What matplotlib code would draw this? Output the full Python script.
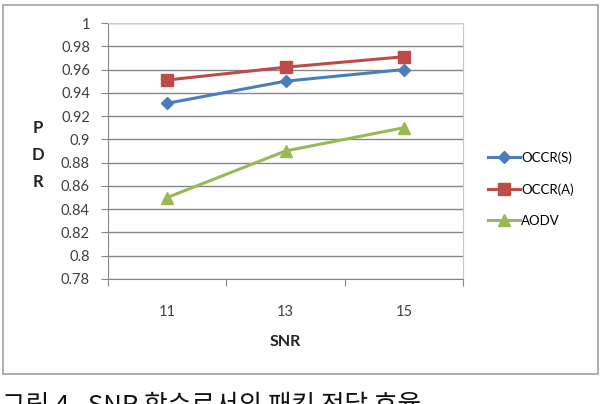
import matplotlib.pyplot as plt
from matplotlib.patches import Rectangle

snr = ['11', '13', '15']
occr_s = [0.931, 0.950, 0.960]
occr_a = [0.951, 0.962, 0.971]
aodv = [0.850, 0.890, 0.910]
yticks = [0.78, 0.8, 0.82, 0.84, 0.86, 0.88, 0.9, 0.92, 0.94, 0.96, 0.98, 1]
ylabels = ['0.78', '0.8', '0.82', '0.84', '0.86', '0.88', '0.9', '0.92', '0.94', '0.96', '0.98', '1']

plt.rcParams['font.family'] = ['Lato', 'DejaVu Sans']

fig = plt.figure(figsize=(6.1, 4.04), dpi=100)
fig.patch.set_facecolor('white')

# outer chart frame
fig.patches.append(Rectangle((3/610, 1-374/404), 595/610, 369/404, transform=fig.transFigure,
                             fill=False, edgecolor='#a0a0a0', linewidth=1.2))

ax = fig.add_axes([108/610, 1-279/404, 355/610, 256/404])
x = range(len(snr))
ax.plot(x, occr_s, color='#4a7ebb', lw=2.2, marker='D', ms=6, label='OCCR(S)')
ax.plot(x, occr_a, color='#be4b48', lw=2.2, marker='s', ms=8, label='OCCR(A)')
ax.plot(x, aodv, color='#98b954', lw=2.2, marker='^', ms=8, label='AODV')

ax.set_xlim(-0.5, 2.5)
ax.set_ylim(0.78, 1)
ax.set_yticks(yticks)
ax.set_yticklabels(ylabels, fontsize=10.5, color='#404040')
ax.set_xticks([-0.5, 0.5, 1.5, 2.5])
ax.set_xticklabels([])
ax.set_xticks(list(x), minor=True)
ax.set_xticklabels(snr, minor=True, fontsize=10.5, color='#404040')
ax.tick_params(axis='x', which='minor', length=0, pad=19)
ax.tick_params(axis='x', which='major', length=5, color='#868686', direction='out')
ax.tick_params(axis='y', length=5, color='#868686', direction='out', pad=8)
ax.grid(axis='y', color='#868686', lw=1)
ax.set_axisbelow(True)
for s in ['top', 'right']:
    ax.spines[s].set_color('#c8c8c8')
for s in ['left', 'bottom']:
    ax.spines[s].set_color('#868686')

fig.text(285/610, 1-342/404, 'SNR', ha='center', va='center', fontsize=11.5, fontweight='bold', color='#222222')
for ch, yy in zip('PDR', [128, 155, 182]):
    fig.text(38/610, 1-yy/404, ch, ha='center', va='center', fontsize=12, fontweight='bold', color='#222222')

fig.legend(loc='center left', bbox_to_anchor=(483/610, 1-189/404), frameon=False, fontsize=9.5,
           labelspacing=1.45, handlelength=2.4, handletextpad=0.1, borderaxespad=0)

# caption, cut off at the bottom edge as in the source image
fig.text(2/610, 1-393/404, '그림 4.  SNR 함수로서의 패킷 전달 효율', ha='left', va='top', fontsize=18.5,
         family=['Noto Sans CJK KR', 'DejaVu Sans'], color='#111111')

fig.savefig('out.png', dpi=100)
